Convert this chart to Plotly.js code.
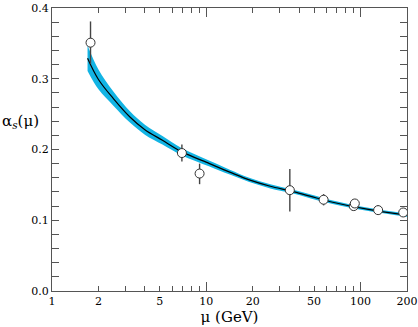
<!DOCTYPE html>
<html>
<head>
<meta charset="utf-8">
<script src="https://cdn.plot.ly/plotly-3.0.1.min.js"></script>
<style>
  html, body { margin: 0; padding: 0; background: #fff; }
  #plot { width: 418px; height: 327px; }
</style>
</head>
<body>
<div id="plot"></div>
<script>
// Fit curve
const muCurve = [1.7, 2.0, 2.5, 3.2, 4.0, 5.2, 6.9, 10.5, 14.2, 19, 26, 35, 47, 66, 110, 200];
const alphaCentral = [0.329, 0.299, 0.272, 0.246, 0.228, 0.213, 0.197, 0.180, 0.168, 0.157, 0.148, 0.1415, 0.134, 0.1255, 0.1157, 0.1072];
const alphaUpper = [0.347, 0.313, 0.282, 0.254, 0.235, 0.219, 0.202, 0.184, 0.1715, 0.160, 0.151, 0.1443, 0.1368, 0.128, 0.118, 0.1095];
const alphaLower = [0.311, 0.285, 0.262, 0.238, 0.221, 0.207, 0.192, 0.176, 0.1645, 0.154, 0.145, 0.1387, 0.1312, 0.123, 0.1134, 0.1049];

// Measurements
const muData = [1.777, 6.95, 9.05, 34.8, 57.6, 90.3, 91.8, 130, 189];
const alphaData = [0.351, 0.195, 0.166, 0.1425, 0.129, 0.120, 0.1237, 0.1143, 0.111];
const errPlus = [0.030, 0.012, 0.014, 0.030, 0.008, 0.004, 0.005, 0.007, 0.004];
const errMinus = [0.030, 0.012, 0.015, 0.030, 0.008, 0.004, 0.005, 0.007, 0.004];

// Axis ticks
const xTickVals = [1, 2, 5, 10, 20, 50, 100, 200];
const xTickText = ['1', '2', '5', '10', '20', '50', '100', '200'];
const xMinorVals = [3, 4, 6, 7, 8, 9, 30, 40, 60, 70, 80, 90];
const xDecades = [1, 10, 100];
const yTickVals = [0, 0.1, 0.2, 0.3, 0.4];
const yTickText = ['0.0', '0.1', '0.2', '0.3', '0.4'];

const font = 'DejaVu Serif, serif';
const band = '#12b4e4';

const traceUpper = {
    x: muCurve, y: alphaUpper, mode: 'lines', line: {width: 0, shape: 'spline'},
    hoverinfo: 'skip', showlegend: false
};
const traceLower = {
    x: muCurve, y: alphaLower, mode: 'lines', line: {width: 0, shape: 'spline'},
    fill: 'tonexty', fillcolor: band, hoverinfo: 'skip', showlegend: false
};
const traceCentral = {
    x: muCurve, y: alphaCentral, mode: 'lines',
    line: {color: '#000', width: 1.2, shape: 'spline'}, showlegend: false
};
const traceData = {
    x: muData, y: alphaData, mode: 'markers', showlegend: false,
    marker: {symbol: 'circle', size: 9, color: '#fff', line: {color: '#333', width: 1}},
    error_y: {type: 'data', symmetric: false, array: errPlus, arrayminus: errMinus,
              color: '#444', thickness: 1.4, width: 0}
};
// invisible trace to enable the overlay axis with long decade ticks
const traceDecade = {
    x: [1, 200], y: [0, 0], xaxis: 'x2', mode: 'none', hoverinfo: 'skip', showlegend: false
};

const axisColor = '#555';
const layout = {
    width: 418, height: 327,
    margin: {l: 52, r: 11, t: 8, b: 36},
    paper_bgcolor: '#fff', plot_bgcolor: '#fff',
    font: {family: font, size: 11, color: '#000'},
    xaxis: {
        type: 'log', range: [0, Math.log10(200)],
        tickmode: 'array', tickvals: xTickVals, ticktext: xTickText,
        ticks: 'inside', ticklen: 5, tickwidth: 1, tickcolor: axisColor,
        minor: {tickmode: 'array', tickvals: xMinorVals, ticks: 'inside', ticklen: 5,
                tickcolor: axisColor, showgrid: false},
        showline: true, linecolor: axisColor, linewidth: 1, mirror: 'allticks',
        showgrid: false, zeroline: false,
        tickfont: {family: font, size: 11},
        title: {text: 'μ (GeV)', font: {family: font, size: 15}, standoff: 2}
    },
    xaxis2: {
        type: 'log', range: [0, Math.log10(200)], overlaying: 'x', matches: 'x',
        tickmode: 'array', tickvals: xDecades, showticklabels: false,
        ticks: 'inside', ticklen: 9, tickwidth: 1, tickcolor: axisColor,
        showline: false, mirror: 'allticks', showgrid: false, zeroline: false
    },
    yaxis: {
        range: [0, 0.4], tickmode: 'array', tickvals: yTickVals, ticktext: yTickText,
        ticks: 'inside', ticklen: 7, tickwidth: 1, tickcolor: axisColor,
        minor: {dtick: 0.02, ticks: 'inside', ticklen: 4, tickcolor: axisColor, showgrid: false},
        showline: true, linecolor: axisColor, linewidth: 1, mirror: 'allticks',
        showgrid: false, zeroline: false,
        tickfont: {family: font, size: 11}
    },
    annotations: [{
        text: 'α<sub><i>s</i></sub>(μ)', xref: 'paper', yref: 'paper',
        x: -0.03, y: 0.6, xanchor: 'right', yanchor: 'middle', showarrow: false,
        font: {family: font, size: 15}
    }]
};

Plotly.newPlot('plot', [traceUpper, traceLower, traceCentral, traceData, traceDecade], layout,
    {staticPlot: true});
</script>
</body>
</html>
